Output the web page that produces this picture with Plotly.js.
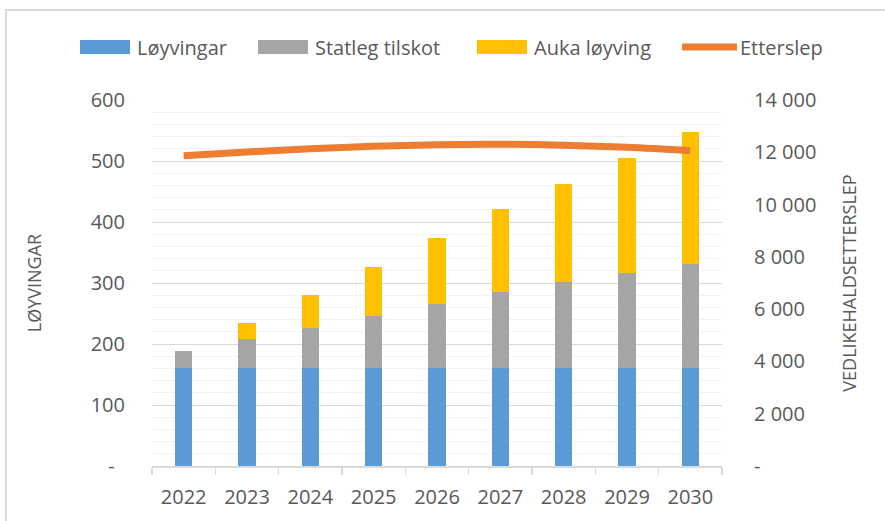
<!DOCTYPE html>
<html>
<head>
<meta charset="utf-8">
<script src="https://cdn.plot.ly/plotly-3.0.1.min.js"></script>
<style>
  html, body { margin: 0; padding: 0; background: #ffffff; }
  #wrap { position: relative; width: 885px; height: 521px; overflow: hidden; }
  #chart { position: absolute; left: 0; top: 0; width: 885px; height: 521px; }
  #frame { position: absolute; left: 5px; top: 9px; width: 900px; height: 540px;
           border: 2px solid #d9d9d9; pointer-events: none; }
</style>
</head>
<body>
<div id="wrap">
  <div id="chart"></div>
  <div id="frame"></div>
</div>
<script>
// ---- data ----
const categories = ['2022', '2023', '2024', '2025', '2026', '2027', '2028', '2029', '2030'];
const loyvingar  = [160, 160, 160, 160, 160, 160, 160, 160, 160];
const statlegTilskot = [28, 48, 66, 86, 106, 126, 141, 156, 171];
const aukaLoyving = [0, 27, 55, 81, 108, 135, 162, 189, 217];
const etterslep = [11870, 12010, 12140, 12230, 12290, 12305, 12270, 12190, 12060];

const leftTickVals = [0, 100, 200, 300, 400, 500, 600];
const leftTickText = ['-\u00a0\u00a0', '100', '200', '300', '400', '500', '600'];
const rightTickVals = [0, 2000, 4000, 6000, 8000, 10000, 12000, 14000];
const rightTickText = ['-', '2 000', '4 000', '6 000', '8 000', '10 000', '12 000', '14 000'];

const seriesNames = ['Løyvingar', 'Statleg tilskot', 'Auka løyving', 'Etterslep'];
const colors = ['#5B9BD5', '#A5A5A5', '#FFC000', '#ED7D31'];

const textColor = '#595959';
const fontFamily = '"Open Sans", "Liberation Sans", sans-serif';

const traces = [
  { type: 'bar', name: seriesNames[0], x: categories, y: loyvingar,
    marker: { color: colors[0] }, legend: 'legend', hoverinfo: 'y' },
  { type: 'bar', name: seriesNames[1], x: categories, y: statlegTilskot,
    marker: { color: colors[1] }, legend: 'legend2', hoverinfo: 'y' },
  { type: 'bar', name: seriesNames[2], x: categories, y: aukaLoyving,
    marker: { color: colors[2] }, legend: 'legend3', hoverinfo: 'y' },
  { type: 'scatter', mode: 'lines', name: seriesNames[3], x: categories, y: etterslep,
    yaxis: 'y2', line: { color: colors[3], width: 7, shape: 'spline', smoothing: 1 },
    legend: 'legend4', hoverinfo: 'y' }
];

function legendAt(xpx) {
  return {
    orientation: 'h', xref: 'container', yref: 'container',
    x: xpx / 885, xanchor: 'left', y: 1 - 47 / 521, yanchor: 'middle',
    bgcolor: 'rgba(0,0,0,0)', borderwidth: 0,
    font: { family: fontFamily, size: 20, color: textColor }
  };
}

const layout = {
  width: 885, height: 521,
  margin: { l: 152, r: 163, t: 100, b: 55, pad: 0 },
  paper_bgcolor: '#ffffff', plot_bgcolor: '#ffffff',
  font: { family: fontFamily, color: textColor },
  barmode: 'stack',
  bargap: 0.727,
  showlegend: true,
  legend: legendAt(97),
  legend2: legendAt(275),
  legend3: legendAt(494),
  legend4: legendAt(700),
  xaxis: {
    type: 'category',
    showline: true, linecolor: '#d9d9d9', linewidth: 1.5,
    ticks: 'outside', tickson: 'boundaries', ticklen: 7, tickcolor: '#d9d9d9', tickwidth: 1.5,
    tickfont: { size: 20, color: textColor },
    ticklabelstandoff: 12,
    showgrid: false, zeroline: false
  },
  yaxis: {
    range: [0, 600],
    tickmode: 'array', tickvals: leftTickVals, ticktext: leftTickText,
    ticks: '', showline: false, zeroline: false,
    gridcolor: '#d9d9d9', gridwidth: 1,
    minor: { tickmode: 'linear', tick0: 0, dtick: 20, showgrid: true, gridcolor: '#f2f2f2', gridwidth: 1, ticks: '' },
    tickfont: { size: 20, color: textColor },
    ticklabelstandoff: 26,
    title: { text: 'LØYVINGAR', font: { size: 18, color: textColor }, standoff: 44 }
  },
  yaxis2: {
    overlaying: 'y', side: 'right',
    range: [0, 14000],
    tickmode: 'array', tickvals: rightTickVals, ticktext: rightTickText,
    ticks: '', showline: false, zeroline: false, showgrid: false,
    tickfont: { size: 20, color: textColor },
    ticklabelstandoff: 31,
    title: { text: 'VEDLIKEHALDSETTERSLEP', font: { size: 18, color: textColor }, standoff: 28 }
  }
};

// Stretch the legend keys to Excel-like proportions (wide boxes, long line).
function widenKeys() {
  const gd = document.getElementById('chart');
  gd.querySelectorAll('g.scrollbox').forEach(g => g.removeAttribute('clip-path'));
  gd.querySelectorAll('g.traces').forEach(tr => {
    try {
      const txt = tr.querySelector('text');
      if (!txt) return;
      const tb = txt.getBBox();
      const tm = txt.getCTM();
      if (!tm) return;
      const textLeft = tm.e + tb.x * tm.a;
      tr.querySelectorAll('path').forEach(p => {
        try {
          if (!p.getAttribute('d')) return;
          const bb = p.getBBox();
          if (!bb || bb.width === 0) return;
          const pm = p.parentNode.getCTM();
          const pc = p.getCTM();
          if (!pm || !pc) return;
          const cxd = bb.x + bb.width / 2, cyd = bb.y + bb.height / 2;
          const cyScreen = pc.f + cyd * pc.d;
          let sx, sy, cxT;
          if (bb.height > 2) { sx = 50 / bb.width; sy = 14 / bb.height; cxT = textLeft - 7 - 25; }
          else { sx = 55 / bb.width; sy = 1; cxT = textLeft - 3 - 27.5; }
          const ax = cxT - sx * cxd - pm.e;
          const ay = cyScreen - sy * cyd - pm.f;
          p.setAttribute('transform', 'matrix(' + sx + ',0,0,' + sy + ',' + ax + ',' + ay + ')');
        } catch (e) { /* ignore */ }
      });
    } catch (e) { /* ignore */ }
  });
}

const gdEl = document.getElementById('chart');
Plotly.newPlot(gdEl, traces, layout, { staticPlot: true, displayModeBar: false }).then(() => {
  widenKeys();
  gdEl.on('plotly_afterplot', widenKeys);
  setTimeout(widenKeys, 50);
  setTimeout(widenKeys, 300);
});
</script>
</body>
</html>
